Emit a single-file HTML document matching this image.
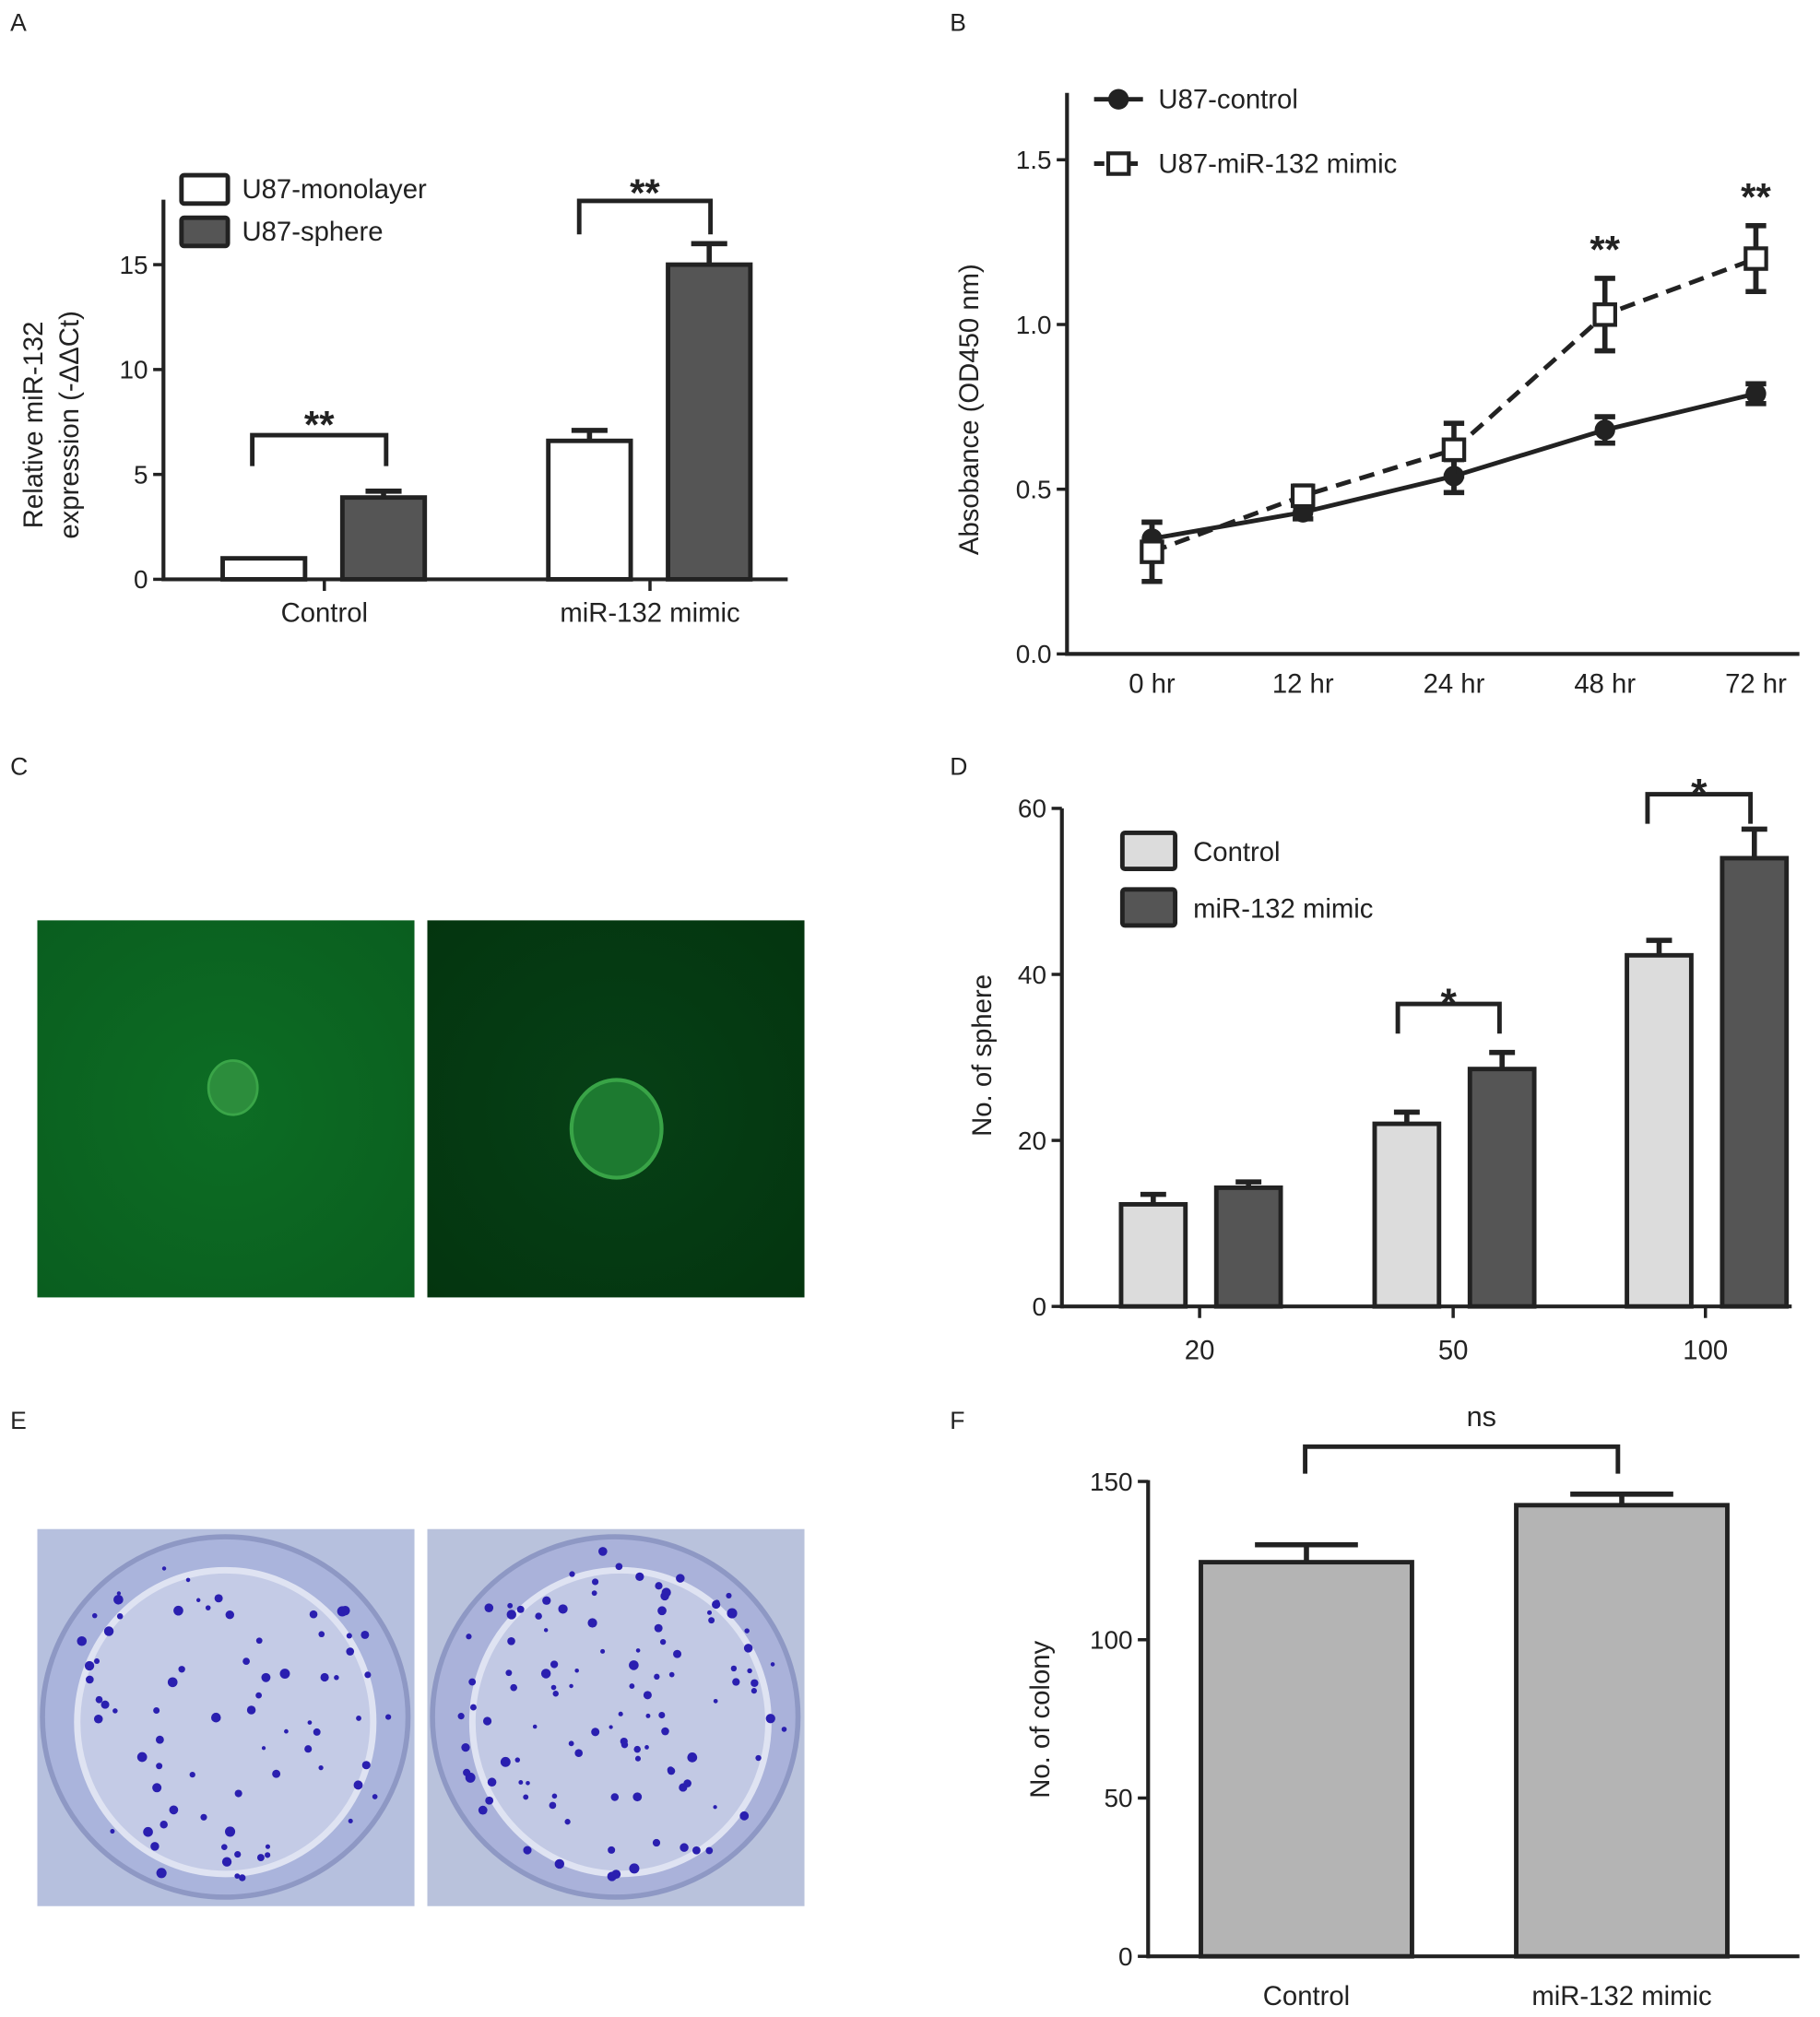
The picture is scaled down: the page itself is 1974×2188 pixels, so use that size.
<!DOCTYPE html>
<html><head><meta charset="utf-8"><style>
html,body{margin:0;padding:0;background:#fff}
svg{display:block}
text{font-family:"Liberation Sans",sans-serif;fill:#222}
</style></head><body>
<svg id="fig" width="1974" height="2188" viewBox="0 0 1414 1567" xmlns="http://www.w3.org/2000/svg">
<g font-size="19">
<text x="8" y="24">A</text>
<text x="738" y="24">B</text>
<text x="8" y="602">C</text>
<text x="738" y="602">D</text>
<text x="8" y="1110">E</text>
<text x="738" y="1110">F</text>
</g>
<g id="pc">
<defs>
<radialGradient id="gl" cx="0.5" cy="0.5" r="0.7"><stop offset="0" stop-color="#0d6d24"/><stop offset="1" stop-color="#0a5e1f"/></radialGradient>
<radialGradient id="gr" cx="0.5" cy="0.5" r="0.7"><stop offset="0" stop-color="#064016"/><stop offset="1" stop-color="#04350f"/></radialGradient>
</defs>
<rect x="29" y="715" width="293" height="293" fill="url(#gl)"/>
<rect x="332" y="715" width="293" height="293" fill="url(#gr)"/>
<ellipse cx="181" cy="845" rx="19" ry="21" fill="#2c8d3c" stroke="#3aa548" stroke-width="2"/>
<ellipse cx="479" cy="877" rx="35" ry="38" fill="#1d7a30" stroke="#39a447" stroke-width="3"/>
</g>
<g id="pe">
<rect x="29" y="1188" width="293" height="293" fill="#b6c0de"/>
<rect x="332" y="1188" width="293" height="293" fill="#b9c2dc"/>
<ellipse cx="175" cy="1334" rx="142" ry="140" fill="#aab4dc" stroke="#8e98c4" stroke-width="4"/>
<ellipse cx="175" cy="1338" rx="115" ry="118" fill="#c4cbe6" stroke="#dfe3f2" stroke-width="5"/>
<ellipse cx="478" cy="1334" rx="142" ry="140" fill="#aab2da" stroke="#8e98c4" stroke-width="4"/>
<ellipse cx="482" cy="1338" rx="115" ry="118" fill="#c2c9e4" stroke="#dfe3f2" stroke-width="5"/>
</g>
<g id="charts"></g>
</svg>
<script>
// Panel A data
const aCats = ["Control", "miR-132 mimic"];
const aMono = [1.0, 6.6];
const aMonoErr = [0, 0.5];
const aSphere = [3.9, 15.0];
const aSphereErr = [0.3, 1.0];
const aTicks = [0, 5, 10, 15];
// Panel B data
const bCats = ["0 hr", "12 hr", "24 hr", "48 hr", "72 hr"];
const bCtrl = [0.35, 0.43, 0.54, 0.68, 0.79];
const bCtrlErr = [0.05, 0.02, 0.05, 0.04, 0.03];
const bMimic = [0.31, 0.48, 0.62, 1.03, 1.20];
const bMimicErr = [0.09, 0.03, 0.08, 0.11, 0.10];
const bTicks = [0.0, 0.5, 1.0, 1.5];
// Panel D data
const dCats = ["20", "50", "100"];
const dCtrl = [12.3, 22.0, 42.3];
const dCtrlErr = [1.2, 1.4, 1.8];
const dMimic = [14.3, 28.6, 54.0];
const dMimicErr = [0.7, 2.0, 3.5];
const dTicks = [0, 20, 40, 60];
// Panel F data
const fCats = ["Control", "miR-132 mimic"];
const fVals = [124.5, 142.5];
const fErr = [5.5, 3.5];
const fTicks = [0, 50, 100, 150];

const NS = "http://www.w3.org/2000/svg";
const root = document.getElementById("charts");
function el(tag, attrs, parent, txt){
  const e = document.createElementNS(NS, tag);
  for (const k in attrs) e.setAttribute(k, attrs[k]);
  if (txt !== undefined) e.textContent = txt;
  (parent || root).appendChild(e);
  return e;
}
function grp(name){
  const g = el("g", {});
  
  
  return g;
}
function errBar(g, x, y1, y2, w){
  const p = el("path", {d:`M${x},${y1}V${y2}M${x-w},${y2}H${x+w}`, stroke:"#222", "stroke-width":4, fill:"none"}, g);
  
  
}
function bracket(g, x1, x2, top, leg, label, ly, fs){
  const p = el("path", {d:`M${x1},${leg}V${top}H${x2}V${leg}`, stroke:"#222", "stroke-width":3.5, fill:"none"}, g);
  
  
  const t = el("text", {x:(x1+x2)/2, y:ly, "text-anchor":"middle", "font-size":fs||30, "font-weight":"bold"}, g, label);
  
  
}
function yAxis(g, x, yTop, yBot, ticks, ys, fmt, fs){
  const l = el("line", {x1:x, y1:yTop, x2:x, y2:yBot+1.5, stroke:"#222", "stroke-width":3}, g);
  
  
  ticks.forEach(v=>{
    const y = ys(v);
    el("line", {x1:x-8, y1:y, x2:x, y2:y, stroke:"#222", "stroke-width":2.5}, g);
    const t = el("text", {x:x-12, y:y+7, "text-anchor":"end", "font-size":fs||20}, g, fmt(v));
    
    
  });
}
function xAxis(g, x1, x2, y){
  const l = el("line", {x1:x1, y1:y, x2:x2, y2:y, stroke:"#222", "stroke-width":3}, g);
  
  
}
function yTitle(g, x, cy, lines, fs){
  lines.forEach((s,i)=>{
    const t = el("text", {x:0, y:0, transform:`translate(${x+i*28},${cy}) rotate(-90)`, "text-anchor":"middle", "font-size":fs||21}, g, s);
    
    
  });
}
function xLabel(g, x, y, s, fs){
  const t = el("text", {x:x, y:y, "text-anchor":"middle", "font-size":fs||21}, g, s);
  
  
}
function bar(g, x, w, y0, y, fill, name){
  const r = el("rect", {x:x, y:y, width:w, height:y0-y, fill:fill, stroke:"#222", "stroke-width":3.5}, g);
  
  
}
function legendBox(g, x, y, w, h, fill, label, tx, ty, fs){
  const r = el("rect", {x:x, y:y, width:w, height:h, fill:fill, stroke:"#222", "stroke-width":3.5, rx:2}, g);
  
  
  const t = el("text", {x:tx, y:ty, "font-size":fs||21}, g, label);
  
  
}

// ---- Panel A ----
(function(){
  const g = grp("panel-a-chart");
  const y0 = 450, k = 16.3;
  const ys = v => y0 - v*k;
  yAxis(g, 127, 155, y0, aTicks, ys, v=>String(v));
  xAxis(g, 126, 612, y0);
  const centers = [252, 505];
  const bw = 64;
  aCats.forEach((c,i)=>{
    const cx = centers[i];
    el("line", {x1:cx, y1:y0, x2:cx, y2:y0+9, stroke:"#222", "stroke-width":2.5}, g);
    xLabel(g, cx, y0+33, c);
    const mx = cx - 79, sx = cx + 14;
    if (aMonoErr[i] > 0) errBar(g, mx+bw/2, ys(aMono[i]), ys(aMono[i]+aMonoErr[i]), 14);
    errBar(g, sx+bw/2, ys(aSphere[i]), ys(aSphere[i]+aSphereErr[i]), 14);
    bar(g, mx, bw, y0, ys(aMono[i]), "#ffffff", "bar-monolayer-"+i);
    bar(g, sx, bw, y0, ys(aSphere[i]), "#555555", "bar-sphere-"+i);
  });
  bracket(g, 196, 300, 338, 362, "**", 340, 30);
  bracket(g, 450, 552, 156, 182, "**", 160, 30);
  legendBox(g, 141, 136, 36, 22, "#ffffff", "U87-monolayer", 188, 154);
  legendBox(g, 141, 169, 36, 22, "#555555", "U87-sphere", 188, 187);
  yTitle(g, 33, 330, ["Relative miR-132", "expression (-\u0394\u0394Ct)"]);
})();

// ---- Panel B ----
(function(){
  const g = grp("panel-b-chart");
  const y0 = 508, k = 256;
  const ys = v => y0 - v*k;
  yAxis(g, 829, 72, y0, bTicks, ys, v=>v.toFixed(1));
  xAxis(g, 828, 1398, y0);
  const x0 = 895, dx = 117.3;
  const xs = i => x0 + i*dx;
  bCats.forEach((c,i)=>xLabel(g, xs(i), 538, c));
  const pc = bCtrl.map((v,i)=>`${xs(i)},${ys(v)}`).join(" ");
  const pm = bMimic.map((v,i)=>`${xs(i)},${ys(v)}`).join(" ");
  const l1 = el("polyline", {points:pc, fill:"none", stroke:"#222", "stroke-width":3.5}, g);
  
  
  const l2 = el("polyline", {points:pm, fill:"none", stroke:"#222", "stroke-width":3.5, "stroke-dasharray":"12,7"}, g);
  
  
  bCtrl.forEach((v,i)=>{
    errBar(g, xs(i), ys(v-bCtrlErr[i]), ys(v+bCtrlErr[i]), 8);
    errBar(g, xs(i), ys(v), ys(v-bCtrlErr[i]), 8);
    const c = el("circle", {cx:xs(i), cy:ys(v), r:8, fill:"#222"}, g);
    
    
  });
  bMimic.forEach((v,i)=>{
    errBar(g, xs(i), ys(v-bMimicErr[i]), ys(v+bMimicErr[i]), 8);
    errBar(g, xs(i), ys(v), ys(v-bMimicErr[i]), 8);
    const r = el("rect", {x:xs(i)-8, y:ys(v)-8, width:16, height:16, fill:"#fff", stroke:"#222", "stroke-width":3}, g);
    
    
  });
  [3,4].forEach(i=>{
    const t = el("text", {x:xs(i), y:ys(bMimic[i]+bMimicErr[i])-12, "text-anchor":"middle", "font-size":30, "font-weight":"bold"}, g, "**");
    
    
  });
  el("line", {x1:850, y1:77, x2:888, y2:77, stroke:"#222", "stroke-width":3.5}, g);
  el("circle", {cx:869, cy:77, r:8, fill:"#222"}, g);
  let t = el("text", {x:900, y:84, "font-size":21}, g, "U87-control");
  
  
  el("line", {x1:850, y1:127, x2:888, y2:127, stroke:"#222", "stroke-width":3.5, "stroke-dasharray":"8,5"}, g);
  el("rect", {x:861, y:119, width:16, height:16, fill:"#fff", stroke:"#222", "stroke-width":3}, g);
  t = el("text", {x:900, y:134, "font-size":21}, g, "U87-miR-132 mimic");
  
  
  yTitle(g, 760, 318, ["Absobance (OD450 nm)"]);
})();

// ---- Panel D ----
(function(){
  const g = grp("panel-d-chart");
  const y0 = 1015, k = 6.45;
  const ys = v => y0 - v*k;
  yAxis(g, 825, 628, y0, dTicks, ys, v=>String(v));
  xAxis(g, 824, 1392, y0);
  const centers = [932, 1129, 1325];
  const bw = 50;
  dCats.forEach((c,i)=>{
    const cx = centers[i];
    el("line", {x1:cx, y1:y0, x2:cx, y2:y0+9, stroke:"#222", "stroke-width":2.5}, g);
    xLabel(g, cx, 1056, c);
    const a = cx - 61, b = cx + 13;
    errBar(g, a+bw/2, ys(dCtrl[i]), ys(dCtrl[i]+dCtrlErr[i]), 10);
    errBar(g, b+bw/2, ys(dMimic[i]), ys(dMimic[i]+dMimicErr[i]), 10);
    bar(g, a, bw, y0, ys(dCtrl[i]), "#dcdcdc", "bar-control-"+c);
    bar(g, b, bw, y0, ys(dMimic[i]), "#555555", "bar-mimic-"+c);
  });
  bracket(g, 1086, 1165, 780, 803, "*", 790, 32);
  bracket(g, 1280, 1360, 617, 640, "*", 627, 32);
  legendBox(g, 872, 647, 41, 28, "#dcdcdc", "Control", 927, 669);
  legendBox(g, 872, 691, 41, 28, "#555555", "miR-132 mimic", 927, 713);
  yTitle(g, 770, 820, ["No. of sphere"]);
})();

// ---- Panel F ----
(function(){
  const g = grp("panel-f-chart");
  const y0 = 1520, k = 2.46;
  const ys = v => y0 - v*k;
  yAxis(g, 892, 1150, y0, fTicks, ys, v=>String(v));
  xAxis(g, 891, 1398, y0);
  const centers = [1015, 1260];
  const bw = 164;
  fCats.forEach((c,i)=>{
    const cx = centers[i];
    xLabel(g, cx, 1558, c);
    errBar(g, cx, ys(fVals[i]), ys(fVals[i]+fErr[i]), 40);
    bar(g, cx-bw/2, bw, y0, ys(fVals[i]), "#b4b4b4", "bar-"+(i?"mimic":"control"));
  });
  bracket(g, 1014, 1257, 1124, 1145, "", 1100, 22);
  const t = el("text", {x:1151, y:1108, "text-anchor":"middle", "font-size":22}, g, "ns");
  
  
  yTitle(g, 815, 1336, ["No. of colony"]);
})();

// Colony dots (decorative image texture, not chart data)
(function(){
  const pe = document.getElementById("pe");
  let s = 7;
  function rnd(){ s = (s*16807) % 2147483647; return s/2147483647; }
  [[175,1334,75],[478,1334,110]].forEach(([cx,cy,n])=>{
    for(let i=0;i<n;i++){
      const a = rnd()*Math.PI*2, r = Math.sqrt(rnd())*132;
      const c = document.createElementNS(NS,"circle");
      c.setAttribute("cx", cx+Math.cos(a)*r);
      c.setAttribute("cy", cy+Math.sin(a)*r);
      c.setAttribute("r", 1.5+rnd()*2.5);
      c.setAttribute("fill", "#2a1fb0");
      
      
      pe.appendChild(c);
    }
  });
})();
</script>
</body></html>
